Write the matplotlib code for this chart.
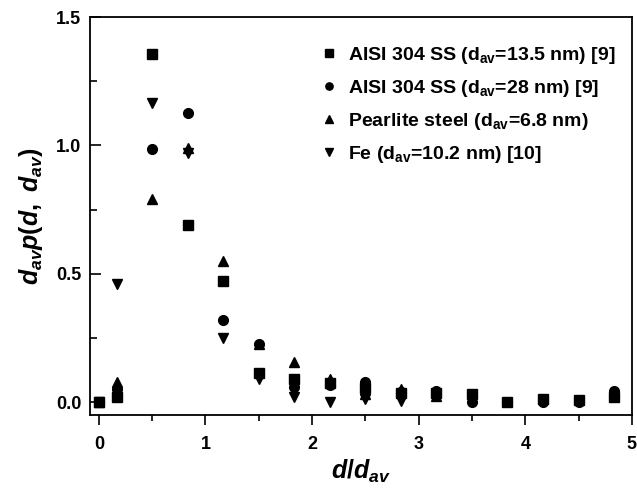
import matplotlib
matplotlib.use("Agg")
import matplotlib.pyplot as plt
from matplotlib.ticker import MultipleLocator

plt.rcParams['font.family'] = ['Liberation Sans', 'DejaVu Sans']
plt.rcParams['font.weight'] = 'bold'
plt.rcParams['mathtext.fontset'] = 'custom'
plt.rcParams['mathtext.rm'] = 'Liberation Sans:bold'
plt.rcParams['mathtext.it'] = 'Liberation Sans:bold:italic'

# d/d_av bins
x = [0, 0.167, 0.5, 0.833, 1.167, 1.5, 1.833, 2.167, 2.5, 2.833,
     3.167, 3.5, 3.833, 4.167, 4.5, 4.833]

ss_13 = [0.0, 0.02, 1.355, 0.69, 0.47, 0.115, 0.09, 0.075, 0.055, 0.035,
         0.035, 0.03, 0.0, 0.01, 0.008, 0.02]
ss_28 = [0.0, 0.05, 0.985, 1.125, 0.32, 0.225, 0.06, 0.065, 0.08, 0.04,
         0.045, 0.0, 0.0, 0.0, 0.0, 0.045]
pearlite = [0.0, 0.08, 0.79, 0.99, 0.55, 0.225, 0.155, 0.09, 0.03, 0.05,
            0.025, None, None, None, None, None]
fe = [0.0, 0.46, 1.165, 0.97, 0.25, 0.09, 0.02, 0.0, 0.01, 0.005,
      None, None, None, None, None, None]

labels = ['AISI 304 SS (d$_{\\mathrm{av}}$=13.5 nm) [9]',
          'AISI 304 SS (d$_{\\mathrm{av}}$=28 nm) [9]',
          'Pearlite steel (d$_{\\mathrm{av}}$=6.8 nm)',
          'Fe (d$_{\\mathrm{av}}$=10.2 nm) [10]']
series = [ss_13, ss_28, pearlite, fe]
markers = ['s', 'o', '^', 'v']

fig = plt.figure(figsize=(6.37, 4.91), dpi=100)
ax = fig.add_axes([0.141, 0.155, 0.851, 0.81])

for ys, m, lab in zip(series, markers, labels):
    pts = [(a, b) for a, b in zip(x, ys) if b is not None]
    ax.plot([p[0] for p in pts], [p[1] for p in pts], linestyle='none',
            marker=m, markersize=7, color='black', label=lab)

ax.set_xlim(-0.085, 5.0)
ax.set_ylim(-0.05, 1.5)
ax.xaxis.set_major_locator(MultipleLocator(1))
ax.xaxis.set_minor_locator(MultipleLocator(0.5))
ax.yaxis.set_major_locator(MultipleLocator(0.5))
ax.yaxis.set_minor_locator(MultipleLocator(0.25))
ax.tick_params(axis='x', which='major', direction='out', length=7, width=1.2, labelsize=13, pad=8)
ax.tick_params(axis='x', which='minor', direction='out', length=4, width=1.2)
ax.tick_params(axis='y', which='major', direction='in', length=8, width=1.2, labelsize=13, pad=6)
ax.tick_params(axis='y', which='minor', direction='in', length=5, width=1.2)
for s in ax.spines.values():
    s.set_linewidth(1.3)

ax.set_xlabel('$d/d_{av}$', fontsize=18, labelpad=4)
ax.set_ylabel('$d_{av}p(d,\\ d_{av})$', fontsize=18, labelpad=8)

ax.legend(loc='upper right', bbox_to_anchor=(0.995, 0.965), frameon=False,
          fontsize=14, handletextpad=0.5, markerscale=0.75, borderaxespad=0.3,
          labelspacing=0.62, handlelength=1.0)

fig.savefig('out.png', dpi=100)
